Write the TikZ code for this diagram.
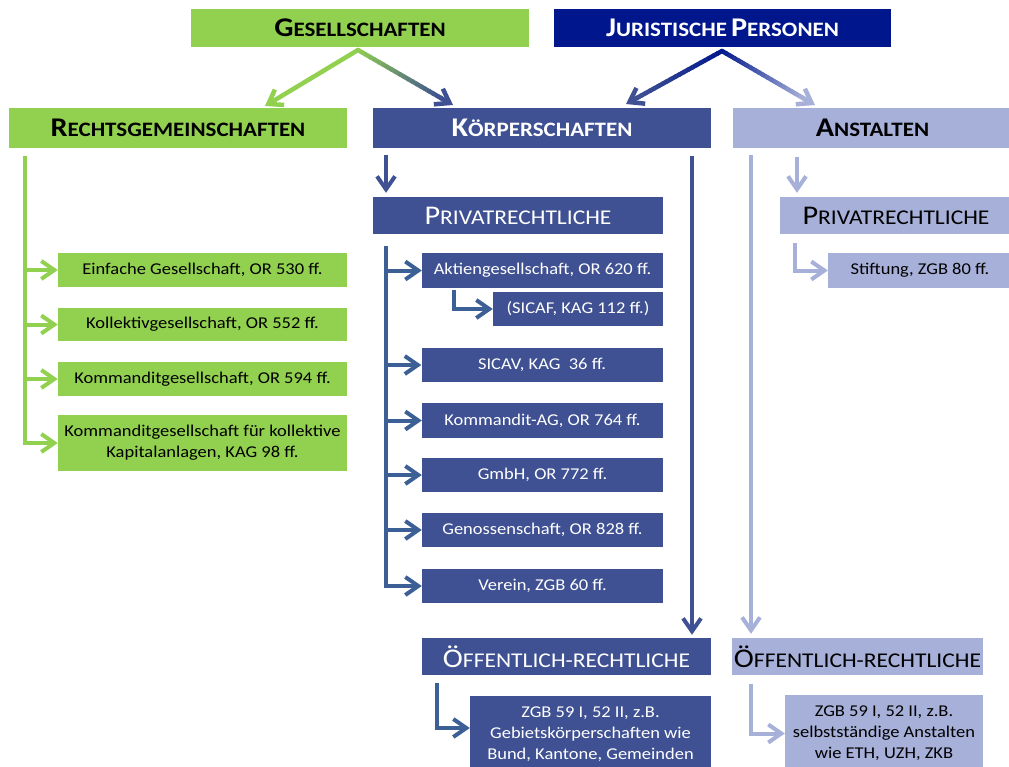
\documentclass[tikz,border=0pt]{standalone}
\usepackage{fontspec}
\setmainfont{Carlito}[FakeStretch=1.12]
\usetikzlibrary{arrows.meta,calc}
\definecolor{cgreen}{RGB}{146,208,80}
\definecolor{cnavy}{RGB}{0,22,140}
\definecolor{ckor}{RGB}{63,81,146}
\definecolor{clight}{RGB}{166,176,216}
\definecolor{csteel}{RGB}{60,96,150}
\newcommand\hsc[2]{{\fontsize{27}{27}\selectfont #1}{\fontsize{20.5}{20.5}\selectfont #2}}
\newcommand\psc[2]{{\fontsize{27}{27}\selectfont #1}{\fontsize{21}{21}\selectfont #2}}
\newcommand\gradline[4]{%
  \foreach \i in {0,...,19}{%
    \pgfmathsetmacro\fa{\i/20*0.88}%
    \pgfmathsetmacro\fb{(\i+1)/20*0.88+0.004}%
    \pgfmathsetmacro\pp{(\i+0.5)*5}%
    \draw[line width=4.5pt, line cap=round, color=#4!\pp!#3] ($(#1)!\fa!(#2)$) -- ($(#1)!\fb!(#2)$);}%
  \draw[line width=4.5pt, color=#4, barb] ($(#1)!0.86!(#2)$) -- (#2);}
\begin{document}
\begin{tikzpicture}[x=1pt,y=-1pt,
  barb/.style={-{Straight Barb[length=13pt,width=18pt]}},
  box/.style={rectangle, inner sep=0pt, align=center, anchor=center, font=\fontsize{16.5}{21}\selectfont},
  gbox/.style={box, fill=cgreen, text=black},
  kbox/.style={box, fill=ckor, text=white},
  abox/.style={box, fill=clight, text=black},
  gline/.style={draw=cgreen, line width=4pt, barb},
  kline/.style={draw=ckor, line width=4pt, barb},
  sline/.style={draw=csteel, line width=4pt, barb},
  aline/.style={draw=clight, line width=4pt, barb}]
\path[use as bounding box] (0,0) rectangle (1009,766);
\clip (0,0) rectangle (1009,766);
\fill[white] (0,0) rectangle (1009,766);

% top level
\node[gbox, minimum width=338pt, minimum height=38pt] (ges) at (360,28) {\bfseries\hsc{G}{ESELLSCHAFTEN}};
\node[box, fill=cnavy, text=white, minimum width=337pt, minimum height=38pt] (jur) at (722.5,28) {\bfseries\hsc{J}{URISTISCHE} \hsc{P}{ERSONEN}};

% second level
\node[gbox, minimum width=338pt, minimum height=40pt] (rg) at (178,128) {\bfseries\hsc{R}{ECHTSGEMEINSCHAFTEN}};
\node[kbox, minimum width=338pt, minimum height=40pt] (kor) at (542,128) {\bfseries\hsc{K}{ÖRPERSCHAFTEN}};
\node[abox, minimum width=279pt, minimum height=40pt] (ans) at (872.5,128) {\bfseries\hsc{A}{NSTALTEN}};

% top arrows
\coordinate (gA) at (358,50);
\coordinate (gL) at (265,106);
\coordinate (gR) at (453,105);
\coordinate (jA) at (722,51);
\coordinate (jL) at (626,104);
\coordinate (jR) at (815,105);
\draw[line width=4.5pt, line cap=round, cgreen, barb] (gA) -- (gL);
\gradline{gA}{gR}{cgreen}{ckor}
\gradline{jA}{jL}{cnavy}{ckor}
\gradline{jA}{jR}{cnavy}{clight}

% left column
\node[gbox, minimum width=289pt, minimum height=34pt] (ein) at (202.5,270) {Einfache Gesellschaft, OR 530 ff.};
\node[gbox, minimum width=289pt, minimum height=33pt] (kol) at (202.5,324.5) {Kollektivgesellschaft, OR 552 ff.};
\node[gbox, minimum width=289pt, minimum height=34pt] (kom) at (202.5,379) {Kommanditgesellschaft, OR 594 ff.};
\node[gbox, minimum width=289pt, minimum height=56pt] (kfk) at (202.5,443) {Kommanditgesellschaft für kollektive\\Kapitalanlagen, KAG 98 ff.};
\coordinate (gtop) at (24.5,156);
\draw[gline] (gtop) |- (kfk.west);
\foreach \n in {ein,kol,kom} \draw[gline] (\n.west -| gtop) -- (\n.west);

% Koerperschaften column
\node[kbox, minimum width=290pt, minimum height=37pt] (priv) at (518,215.5) {\psc{P}{RIVATRECHTLICHE}};
\node[kbox, minimum width=241pt, minimum height=35pt] (ag) at (542.5,270.5) {Aktiengesellschaft, OR 620 ff.};
\node[kbox, minimum width=170pt, minimum height=34pt] (sicaf) at (578,309) {(SICAF, KAG 112 ff.)};
\node[kbox, minimum width=241pt, minimum height=34pt] (sicav) at (542,365) {SICAV, KAG\ \ 36 ff.};
\node[kbox, minimum width=241pt, minimum height=35pt] (kag) at (542.5,420.5) {Kommandit-AG, OR 764 ff.};
\node[kbox, minimum width=241pt, minimum height=34pt] (gmbh) at (542.5,475) {GmbH, OR 772 ff.};
\node[kbox, minimum width=241pt, minimum height=34pt] (gen) at (542.5,530) {Genossenschaft, OR 828 ff.};
\node[kbox, minimum width=241pt, minimum height=34pt] (ver) at (542.5,586) {Verein, ZGB 60 ff.};
\node[kbox, minimum width=289pt, minimum height=37pt] (oef1) at (566.5,656.5) {\psc{Ö}{FFENTLICH-RECHTLICHE}};
\node[kbox, minimum width=241pt, minimum height=76pt] (zgb1) at (590.5,734) {ZGB 59 I, 52 II, z.B.\\Gebietskörperschaften wie\\Bund, Kantone, Gemeinden};

\coordinate (kd) at (386,155);
\draw[kline, shorten >=4pt] (kd) -- (kd |- priv.north);
\coordinate (kr) at (692,156);
\draw[kline, shorten >=3pt] (kr) -- (kr |- oef1.north);
\coordinate (pl) at (386,246);
\draw[sline] (pl) |- (ver.west);
\foreach \n in {ag,sicav,kag,gmbh,gen} \draw[sline] (\n.west -| pl) -- (\n.west);
\coordinate (sc) at (454,290);
\draw[sline] (sc) |- (sicaf.west);
\coordinate (oc) at (437,683);
\draw[sline] (oc) |- ([yshift=6pt]zgb1.west);

% Anstalten column
\node[abox, minimum width=232pt, minimum height=37pt] (priv2) at (896,215.5) {\psc{P}{RIVATRECHTLICHE}};
\node[abox, minimum width=184pt, minimum height=35pt] (stift) at (920,270.5) {Stiftung, ZGB 80 ff.};
\node[abox, minimum width=251pt, minimum height=37pt] (oef2) at (857.5,656.5) {\psc{Ö}{FFENTLICH-RECHTLICHE}};
\node[abox, minimum width=198pt, minimum height=77pt] (zgb2) at (884,733.5) {ZGB 59 I, 52 II, z.B.\\selbstständige Anstalten\\wie ETH, UZH, ZKB};

\coordinate (al) at (751,155);
\draw[aline, shorten >=4pt] (al) -- (al |- oef2.north);
\coordinate (ad) at (797,157);
\draw[aline, shorten >=4pt] (ad) -- (ad |- priv2.north);
\coordinate (ac) at (795,243);
\draw[aline] (ac) |- (stift.west);
\coordinate (oc2) at (751,684);
\draw[aline] (oc2) |- (zgb2.west);
\end{tikzpicture}
\end{document}
